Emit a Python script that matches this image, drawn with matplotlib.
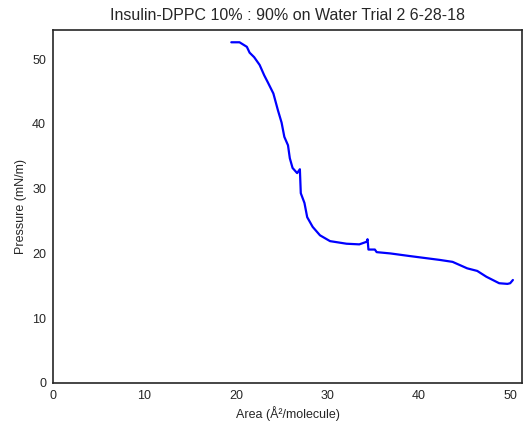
import matplotlib
matplotlib.use("Agg")
import matplotlib.pyplot as plt
import seaborn as sns

sns.set_style("white")
plt.rcParams['font.family'] = ['Liberation Sans', 'DejaVu Sans']

# isotherm
area = [19.5, 20.4, 21.2, 21.5, 22.0, 22.6, 23.1, 23.5, 24.1, 24.6, 25.0,
        25.3, 25.7, 25.9, 26.2, 26.7, 27.0, 27.1, 27.5, 27.8, 28.4, 29.2,
        30.3, 32.1, 33.5, 34.3, 34.4, 34.5, 35.2, 35.4, 36.9, 39.0, 42.3,
        43.7, 45.3, 46.4, 47.4, 48.8, 49.7, 50.0, 50.3]
pressure = [52.6, 52.6, 51.9, 51.0, 50.3, 49.1, 47.5, 46.4, 44.7, 42.1, 40.2,
            38.0, 36.7, 34.7, 33.2, 32.4, 33.0, 29.3, 27.8, 25.6, 24.1, 22.8,
            21.9, 21.5, 21.4, 21.8, 22.2, 20.6, 20.6, 20.2, 20.0, 19.6, 19.0,
            18.7, 17.7, 17.3, 16.4, 15.4, 15.3, 15.4, 15.9]

fig = plt.figure(figsize=(5.27, 4.21), dpi=100)
ax = fig.add_axes([0.1006, 0.0903, 0.89, 0.8385])
ax.plot(area, pressure, color='blue', lw=1.6)

ax.set_xlim(0, 51.3)
ax.set_ylim(0, 54.5)
ax.set_xticks([0, 10, 20, 30, 40, 50])
ax.set_yticks([0, 10, 20, 30, 40, 50])
ax.tick_params(labelsize=9, colors='#262626', pad=1.5)
for s in ax.spines.values():
    s.set_color('#262626')
    s.set_linewidth(1.2)

ax.set_title('Insulin-DPPC 10% : 90% on Water Trial 2 6-28-18', fontsize=11.5, color='#262626', pad=7)
ax.set_xlabel('Area (Å²/molecule)', fontsize=9, color='#262626', labelpad=3)
ax.set_ylabel('Pressure (mN/m)', fontsize=9, color='#262626', labelpad=4)

fig.savefig('out.png', dpi=100)
